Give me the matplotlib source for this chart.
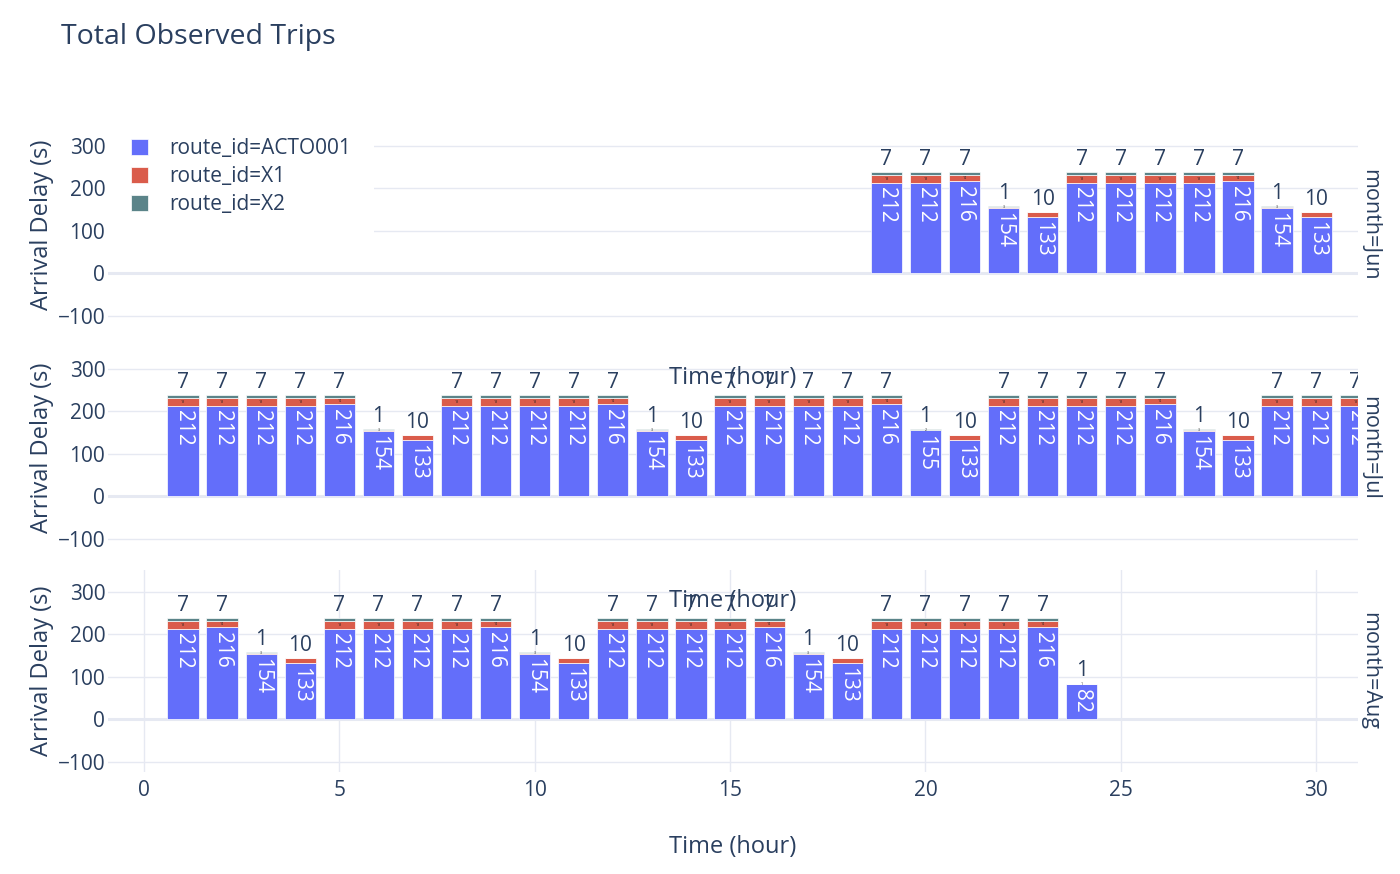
import matplotlib

matplotlib.use("Agg")
import matplotlib.pyplot as plt
from matplotlib.patches import Patch

plt.rcParams["font.family"] = ["Open Sans", "DejaVu Sans"]

TEXT_COLOR = "#2a3f5f"
GRID_COLOR = "#E6E9F2"

months = ["Jun", "Jul", "Aug"]
routes = ["route_id=ACTO001", "route_id=X1", "route_id=X2"]
route_colors = ["#636EFA", "#DA5C4B", "#5B8489"]

# trips per day and route, one set of lists per month
jun_days = [19, 20, 21, 22, 23, 24, 25, 26, 27, 28, 29, 30]
jun_acto = [212, 212, 216, 154, 133, 212, 212, 212, 212, 216, 154, 133]
jun_x1 = [18, 18, 14, 3, 10, 18, 18, 18, 18, 14, 3, 10]
jun_x2 = [7, 7, 7, 1, 0, 7, 7, 7, 7, 7, 1, 0]

jul_days = list(range(1, 32))
jul_acto = [212, 212, 212, 212, 216, 154, 133,
            212, 212, 212, 212, 216, 154, 133,
            212, 212, 212, 212, 216, 155, 133,
            212, 212, 212, 212, 216, 154, 133,
            212, 212, 212]
jul_x1 = [18, 18, 18, 18, 14, 3, 10,
          18, 18, 18, 18, 14, 3, 10,
          18, 18, 18, 18, 14, 2, 10,
          18, 18, 18, 18, 14, 3, 10,
          18, 18, 18]
jul_x2 = [7, 7, 7, 7, 7, 1, 0,
          7, 7, 7, 7, 7, 1, 0,
          7, 7, 7, 7, 7, 1, 0,
          7, 7, 7, 7, 7, 1, 0,
          7, 7, 7]

aug_days = list(range(1, 25))
aug_acto = [212, 216, 154, 133,
            212, 212, 212, 212, 216, 154, 133,
            212, 212, 212, 212, 216, 154, 133,
            212, 212, 212, 212, 216, 82]
aug_x1 = [18, 14, 3, 10,
          18, 18, 18, 18, 14, 3, 10,
          18, 18, 18, 18, 14, 3, 10,
          18, 18, 18, 18, 14, 1]
aug_x2 = [7, 7, 1, 0,
          7, 7, 7, 7, 7, 1, 0,
          7, 7, 7, 7, 7, 1, 0,
          7, 7, 7, 7, 7, 1]

y_ticks = [-100, 0, 100, 200, 300]
x_ticks = [0, 5, 10, 15, 20, 25, 30]


def drawPanel(ax, days: list, stacks: list) -> None:
    bottoms = [0] * len(days)
    for i, values in enumerate(stacks):
        ax.bar(days, values, width=0.8, bottom=bottoms, color=route_colors[i],
               edgecolor="white", linewidth=0.5, zorder=2)
        for j, day in enumerate(days):
            v = values[j]
            if v <= 0:
                continue
            top = bottoms[j] + v
            is_top = all(s[j] == 0 for s in stacks[i + 1:])
            if i == 0:
                ax.annotate(str(v), (day, top), xytext=(0, -3), textcoords="offset points",
                            rotation=-90, ha="center", va="top", color="white",
                            fontsize=15, clip_on=True, zorder=4)
            elif is_top:
                ax.annotate(str(v), (day, top), xytext=(0, 1.5), textcoords="offset points",
                            ha="center", va="bottom", color=TEXT_COLOR,
                            fontsize=15, clip_on=True, zorder=4)
            else:
                ax.text(day, bottoms[j] + v / 2, str(v), ha="center", va="center",
                        color="#222222", fontsize=2.5, clip_on=True, zorder=4)
        bottoms = [b + v for b, v in zip(bottoms, values)]


def styleAxes(ax, month: str, bottom: bool) -> None:
    ax.set_xlim(-0.92, 31.07)
    ax.set_ylim(-124, 351)
    ax.set_yticks(y_ticks)
    ax.set_axisbelow(True)
    ax.yaxis.grid(True, color=GRID_COLOR, linewidth=1)
    ax.axhline(0, color=GRID_COLOR, linewidth=2.2, zorder=1)
    for s in ax.spines.values():
        s.set_visible(False)
    ax.tick_params(length=0, labelsize=15, colors=TEXT_COLOR)
    ax.tick_params(axis="y", pad=2)
    if bottom:
        ax.set_xticks(x_ticks)
        ax.xaxis.grid(True, color=GRID_COLOR, linewidth=1)
        ax.tick_params(axis="x", pad=6)
    else:
        ax.set_xticks([])
    ax.set_ylabel("Arrival Delay (s)", fontsize=17, color=TEXT_COLOR)
    ax.yaxis.set_label_coords(-0.043, 0.5)
    ax.text(1.0096, 0.5, "month=" + month, transform=ax.transAxes, rotation=-90,
            ha="center", va="center", fontsize=15.5, color=TEXT_COLOR)


def main() -> None:
    fig = plt.figure(figsize=(14, 8.74), dpi=100)
    left = 108 / 1400
    width = 1250 / 1400
    height = 202 / 874
    panel_bottoms = [1 - 326 / 874, 1 - 549 / 874, 1 - 772 / 874]
    data = [
        (jun_days, [jun_acto, jun_x1, jun_x2]),
        (jul_days, [jul_acto, jul_x1, jul_x2]),
        (aug_days, [aug_acto, aug_x1, aug_x2]),
    ]

    axes = []
    for k, month in enumerate(months):
        ax = fig.add_axes([left, panel_bottoms[k], width, height])
        drawPanel(ax, data[k][0], data[k][1])
        styleAxes(ax, month, bottom=(k == len(months) - 1))
        axes.append(ax)

    handles = [Patch(facecolor=c, edgecolor="white", linewidth=0.5) for c in route_colors]
    axes[0].legend(handles, routes, loc="upper left", bbox_to_anchor=(0, 1.045),
                   borderaxespad=0, borderpad=1.1, fontsize=15, frameon=True,
                   facecolor="white", edgecolor="none", framealpha=1,
                   handlelength=0.8, handleheight=0.8, handletextpad=1.05,
                   labelspacing=0.35, labelcolor=TEXT_COLOR)

    # x-axis titles of the upper facets end up inside the panels below
    axes[-1].set_xlabel("Time (hour)", fontsize=17, color=TEXT_COLOR, labelpad=24)
    for y in [1 - 378 / 874, 1 - 601 / 874]:
        fig.text(733 / 1400, y, "Time (hour)", ha="center", va="center",
                 fontsize=17, color=TEXT_COLOR, zorder=10)

    fig.text(61 / 1400, 1 - 37 / 874, "Total Observed Trips", ha="left", va="center",
             fontsize=20.5, color=TEXT_COLOR)

    fig.savefig("out.png", dpi=100, facecolor="white")


if __name__ == "__main__":
    main()
